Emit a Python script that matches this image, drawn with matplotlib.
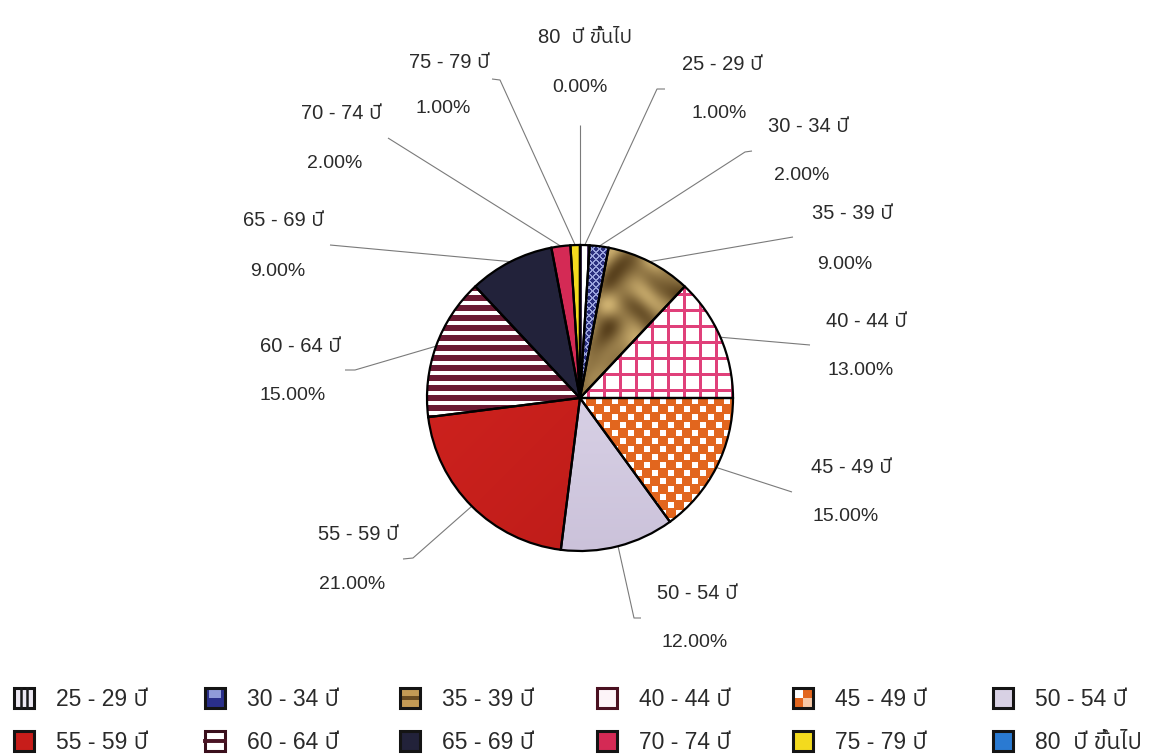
import numpy as np
import matplotlib
matplotlib.use("Agg")
import matplotlib.pyplot as plt
import matplotlib.font_manager as fm
from matplotlib.ft2font import FT2Font
from matplotlib.colors import to_rgb
from matplotlib.patches import Rectangle

# ---------------- data ----------------
categories = ['25 - 29 ปี', '30 - 34 ปี', '35 - 39 ปี', '40 - 44 ปี', '45 - 49 ปี', '50 - 54 ปี',
              '55 - 59 ปี', '60 - 64 ปี', '65 - 69 ปี', '70 - 74 ปี', '75 - 79 ปี', '80  ปี ขึ้นไป']
percent = [1, 2, 9, 13, 15, 12, 21, 15, 9, 2, 1, 0]

# ---------------- fonts ----------------
def find_thai_font():
    found = []
    for f in fm.fontManager.ttflist:
        try:
            cmap = FT2Font(f.fname).get_charmap()
        except Exception:
            continue
        if 0x0E1B in cmap and 0x0E35 in cmap and 0x0E02 in cmap:
            found.append(f.name)
    if not found:
        return None
    def score(n):
        s = 0
        if 'Thai' in n: s -= 4
        if 'Sans' in n: s -= 2
        if 'Looped' in n: s += 3
        return s
    found.sort(key=score)
    return found[0]

thai = find_thai_font()
families = ['Liberation Sans'] + ([thai] if thai else []) + ['DejaVu Sans']
plt.rcParams['font.family'] = families

# ---------------- layout ----------------
W, H = 1157, 756
CX, CY, R = 580, 398, 153
TXT = '#2a2a2a'
FS_NAME = 14.5
FS_PCT = 14
FS_LEG = 16.5

# label centres (pixels): name, percentage
name_pos = [(722, 63), (808, 125), (852, 212), (866, 320), (851, 466), (697, 592),
            (358, 533), (300, 345), (283, 219), (341, 112), (449, 61), (585, 36)]
pct_pos = [(719, 111), (802, 173), (845, 262), (861, 368), (846, 514), (695, 640),
           (352, 582), (293, 393), (278, 269), (335, 161), (443, 106), (580, 85)]
# leader outer end and hook end (pixels)
lead_out = [(657, 89), (745, 152), (793, 237), (810, 345), (792, 492), (634, 618),
            (413, 558), (355, 370), (330, 245), (388, 138), (500, 80), (580, 125)]
lead_hook = [(665, 89), (752, 151), None, None, None, (641, 618),
             (403, 559), (345, 370), None, None, (492, 79), None]

base_colors = ['#ffffff', '#2a2f7e', '#9a773c', '#ffffff', '#e2661e', '#d8d1e4',
               '#c71d1a', '#ffffff', '#22223a', '#d42a55', '#f3da1e', '#2a7ad2']

def px2d(px, py):
    return (px - CX) / R, (CY - py) / R

fig = plt.figure(figsize=(W / 100, H / 100), dpi=100)
fig.patch.set_facecolor('white')
ax = fig.add_axes([0, 0, 1, 1])
ax.axis('off')

wedges, _ = ax.pie(percent, startangle=90, counterclock=False, colors=base_colors,
                   radius=1, wedgeprops=dict(linewidth=0, edgecolor='none'))
for w in wedges:
    w.set_zorder(1)

# ---------------- textures ----------------
N = 2 * R
yy, xx = np.mgrid[0:N, 0:N]

def blend(mask, bg, fg):
    bg = np.array(to_rgb(bg)); fg = np.array(to_rgb(fg))
    m = mask[..., None].astype(float)
    return bg * (1 - m) + fg * m

def grad(c1, c2, t):
    c1 = np.array(to_rgb(c1)); c2 = np.array(to_rgb(c2))
    t = np.clip(t, 0, 1)[..., None]
    return c1 * (1 - t) + c2 * t

textures = {}
textures[0] = blend((xx % 8) < 3, '#ffffff', '#4a3460')
textures[1] = blend(((xx + yy) % 7 < 1.6) | ((xx - yy) % 7 < 1.6), '#2a2f7e', '#9aa3dc')
gold_t = 0.5 + 0.25 * np.sin(xx * 0.11 + 3 * np.sin(yy * 0.05)) + 0.25 * np.sin(yy * 0.13 + 2 * np.sin(xx * 0.07))
textures[2] = grad('#5a421e', '#cdb070', gold_t)
textures[3] = blend(((xx % 16) < 2.5) | ((yy % 16) < 2.5), '#ffffff', '#e0407a')
checker = ((((xx // 8) + (yy // 8)) % 2) == 0) & ((xx % 8) >= 1) & ((xx % 8) <= 6) & ((yy % 8) >= 1) & ((yy % 8) <= 6)
textures[4] = blend(checker, '#e2661e', '#ffffff')
textures[5] = grad('#e4def0', '#cbc2da', yy / N)
textures[6] = grad('#d42420', '#b81a17', (xx + yy) / (2 * N))
textures[7] = blend((yy % 10) < 5.5, '#ffffff', '#6b1a33')

for i, tex in textures.items():
    im = ax.imshow(tex, extent=(-1, 1, -1, 1), origin='upper', interpolation='nearest', zorder=2)
    im.set_clip_path(wedges[i])

# outlines
outline, _ = ax.pie(percent, startangle=90, counterclock=False, colors=['none'] * len(percent),
                    radius=1, wedgeprops=dict(linewidth=1.6, edgecolor='black', fill=False))
for w in outline:
    w.set_zorder(3)

# ---------------- labels & leaders ----------------
cum = np.concatenate([[0], np.cumsum(percent)]) / 100.0
mid = (cum[:-1] + cum[1:]) / 2 * 2 * np.pi
for i, cat in enumerate(categories):
    ex, ey = np.sin(mid[i]), np.cos(mid[i])
    ox, oy = px2d(*lead_out[i])
    xs, ys = [ex, ox], [ey, oy]
    if lead_hook[i] is not None:
        hx, hy = px2d(*lead_hook[i])
        xs.append(hx); ys.append(hy)
    ax.plot(xs, ys, color='#7a7a7a', lw=0.8, zorder=0.5, solid_capstyle='butt')
    nx, ny = px2d(name_pos[i][0], name_pos[i][1] + 7)
    ax.text(nx, ny, cat, ha='center', va='baseline', fontsize=FS_NAME, color=TXT)
    qx, qy = px2d(pct_pos[i][0], pct_pos[i][1] + 7)
    ax.text(qx, qy, f'{percent[i]:.2f}%', ha='center', va='baseline', fontsize=FS_PCT, color=TXT)

ax.set_xlim(-CX / R, (W - CX) / R)
ax.set_ylim(-(H - CY) / R, CY / R)
ax.set_aspect('auto')

# ---------------- legend ----------------
lax = fig.add_axes([0, 0, 1, 1])
lax.set_xlim(0, W)
lax.set_ylim(H, 0)
lax.axis('off')
lax.patch.set_alpha(0)

col_x = [14, 205, 400, 597, 793, 993]
row_y = [688, 731]
S = 20

def icon(i, x, y):
    edge = '#141414'
    if i == 0:
        lax.add_patch(Rectangle((x, y), S, S, facecolor='#ece8f2', edgecolor='none'))
        for f in (1 / 3, 2 / 3):
            lax.plot([x + S * f, x + S * f], [y, y + S], color='#1a1a1a', lw=1.8)
    elif i == 1:
        lax.add_patch(Rectangle((x, y), S, S, facecolor='#2a2f8a', edgecolor='none'))
        lax.add_patch(Rectangle((x + 4, y + 2), S - 8, 8, facecolor='#8f9ad8', edgecolor='none'))
    elif i == 2:
        lax.add_patch(Rectangle((x, y), S, S, facecolor='#c39a55', edgecolor='none'))
        lax.add_patch(Rectangle((x, y + 8), S, 4, facecolor='#6a4c22', edgecolor='none'))
    elif i == 3:
        lax.add_patch(Rectangle((x, y), S, S, facecolor='#fdf4f8', edgecolor='none'))
        edge = '#4a1020'
    elif i == 4:
        lax.add_patch(Rectangle((x, y), S, S, facecolor='#e2661e', edgecolor='none'))
        lax.add_patch(Rectangle((x, y), S / 2, S / 2, facecolor='white', edgecolor='none'))
        lax.add_patch(Rectangle((x + S / 2, y + S / 2), S / 2, S / 2, facecolor='#f7c9a8', edgecolor='none'))
    elif i == 7:
        lax.add_patch(Rectangle((x, y), S, S, facecolor='white', edgecolor='none'))
        lax.plot([x, x + S], [y + S / 2, y + S / 2], color='#4a1424', lw=2.8)
        edge = '#3a0f1c'
    else:
        lax.add_patch(Rectangle((x, y), S, S, facecolor=base_colors[i], edgecolor='none'))
    lax.add_patch(Rectangle((x, y), S, S, facecolor='none', edgecolor=edge, lw=2.2))

for i, cat in enumerate(categories):
    r, c = divmod(i, 6)
    x, y = col_x[c], row_y[r]
    icon(i, x, y)
    lax.text(x + 42, y + S / 2 + 8, cat, ha='left', va='baseline', fontsize=FS_LEG, color=TXT)

fig.savefig('out.png', dpi=100, facecolor='white')
